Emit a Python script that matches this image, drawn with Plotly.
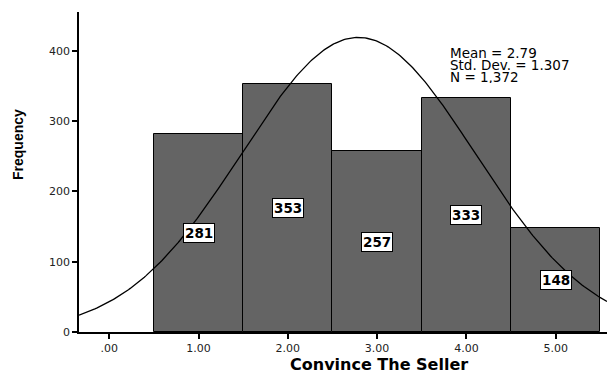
import numpy as np
import plotly.graph_objects as go

# Histogram of "Convince The Seller" responses
categories = [1, 2, 3, 4, 5]
frequencies = [281, 353, 257, 333, 148]
mean_value = 2.79
std_dev = 1.307
n_total = 1372
bin_width = 1.0

x_tick_vals = [0, 1, 2, 3, 4, 5]
x_tick_text = [".00", "1.00", "2.00", "3.00", "4.00", "5.00"]
y_tick_vals = [0, 100, 200, 300, 400]

x_title = "Convince The Seller"
y_title = "Frequency"

x_range = [-0.338, 5.574]
y_range = [0, 455]

W, H = 607, 374
ML, MR, MT, MB = 79, 0, 12, 42


def px_to_paper(px, py):
    """Convert a pixel position on the page into paper coordinates."""
    return (px - ML) / (W - ML - MR), 1 - (py - MT) / (H - MT - MB)


SANS = "DejaVu Sans, Verdana, sans-serif"

fig = go.Figure()

fig.add_trace(go.Bar(
    x=categories,
    y=frequencies,
    width=bin_width,
    marker=dict(color="#646464", line=dict(color="#000000", width=1)),
    hoverinfo="x+y",
    showlegend=False,
))

# Normal curve scaled to counts: N * bin width * pdf
xs = np.linspace(x_range[0], x_range[1], 300)
pdf = np.exp(-0.5 * ((xs - mean_value) / std_dev) ** 2) / (std_dev * np.sqrt(2 * np.pi))
fig.add_trace(go.Scatter(
    x=xs,
    y=n_total * bin_width * pdf,
    mode="lines",
    line=dict(color="#000000", width=1.3),
    hoverinfo="skip",
    showlegend=False,
))

# Count labels in white boxes at half bar height
for cat, freq in zip(categories, frequencies):
    fig.add_annotation(
        x=cat, y=freq / 2, xref="x", yref="y",
        text=f"<b>{freq}</b>", showarrow=False,
        font=dict(family=SANS, size=13.5, color="#000000"),
        bgcolor="#ffffff", bordercolor="#000000", borderwidth=1, borderpad=1,
    )

# Summary statistics block (tightly stacked lines)
stats_lines = [
    f"Mean = {mean_value:.2f}",
    f"Std. Dev. = {std_dev:.3f}",
    f"N = {n_total:,}",
]
for i, line in enumerate(stats_lines):
    sx, sy = px_to_paper(448, 53 + 11.8 * i)
    fig.add_annotation(
        x=sx, y=sy, xref="paper", yref="paper",
        text=line, showarrow=False, xanchor="left", yanchor="middle",
        height=12, valign="middle",
        font=dict(family=SANS, size=13.5, color="#000000"),
    )

# Axis titles
tx, ty = px_to_paper(379, 364)
fig.add_annotation(
    x=tx, y=ty, xref="paper", yref="paper",
    text=f"<b>{x_title}</b>", showarrow=False,
    xanchor="center", yanchor="middle",
    font=dict(family=SANS, size=16, color="#000000"),
)
fx, fy = px_to_paper(18, 145)
fig.add_annotation(
    x=fx, y=fy, xref="paper", yref="paper",
    text=f"<b>{y_title}</b>", showarrow=False, textangle=-90,
    xanchor="center", yanchor="middle",
    font=dict(family="Liberation Sans, Arial, sans-serif", size=14, color="#000000"),
)

fig.update_layout(
    width=W, height=H,
    margin=dict(l=ML, r=MR, t=MT, b=MB),
    plot_bgcolor="#ffffff",
    paper_bgcolor="#ffffff",
    bargap=0,
    font=dict(family=SANS, color="#000000"),
)

fig.update_xaxes(
    range=x_range,
    tickmode="array", tickvals=x_tick_vals, ticktext=x_tick_text,
    ticks="outside", ticklen=5, tickcolor="#000000", tickwidth=1.5,
    tickfont=dict(family=SANS, size=11, color="#222222"),
    showline=True, linecolor="#000000", linewidth=1.5,
    showgrid=False, zeroline=False,
)
fig.update_yaxes(
    range=y_range,
    tickmode="array", tickvals=y_tick_vals,
    ticks="outside", ticklen=5, tickcolor="#000000", tickwidth=1.5,
    tickfont=dict(family=SANS, size=11, color="#222222"),
    showline=True, linecolor="#000000", linewidth=1.5,
    showgrid=False, zeroline=False,
)

fig.write_html("out.html")
